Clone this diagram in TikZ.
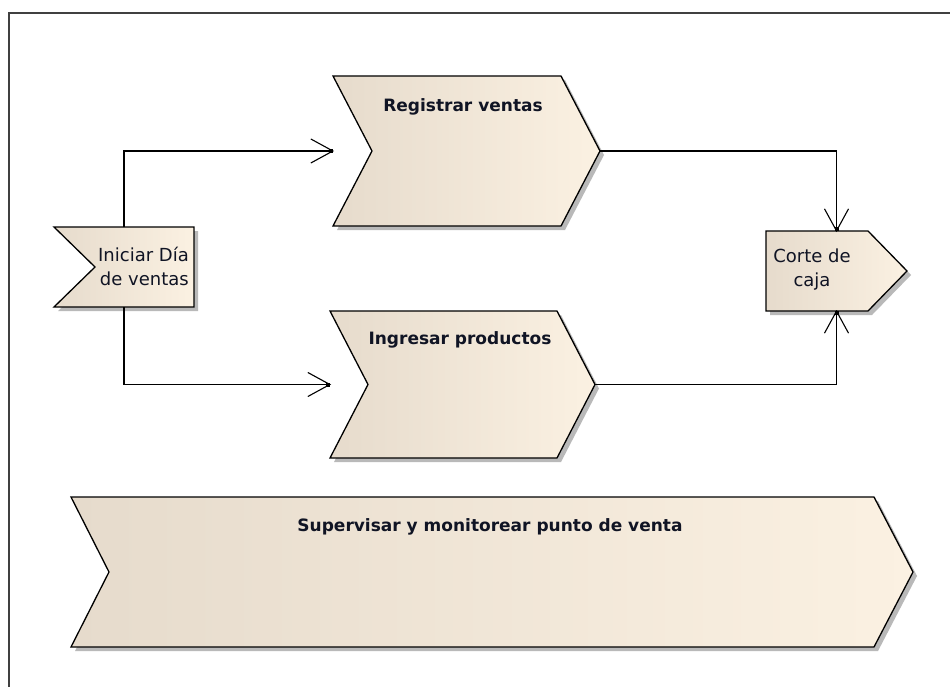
\documentclass[tikz,border=0pt]{standalone}
\usepackage{fontspec}
\setmainfont{DejaVu Sans}
\usetikzlibrary{arrows.meta,shadows}
\definecolor{beigeL}{RGB}{230,219,204}
\definecolor{beigeR}{RGB}{251,241,226}
\definecolor{shadegray}{RGB}{185,185,185}
\definecolor{framegray}{RGB}{64,64,64}
\definecolor{inktext}{RGB}{16,20,36}

% outline of an event/process block: notch depth on the left, point depth on the right
\newcommand{\evshape}[3]{%
  \draw[evstyle] (#1.north west) -- ([xshift=-#3pt]#1.north east) -- (#1.east)
    -- ([xshift=-#3pt]#1.south east) -- (#1.south west) -- ([xshift=#2pt]#1.west) -- cycle;}

\begin{document}
\begin{tikzpicture}[x=1pt,y=-1pt,
  box/.style 2 args={minimum width=#1pt, minimum height=#2pt, inner sep=0pt, outer sep=0pt},
  evstyle/.style={draw=black, line width=1.3pt, line join=miter,
    left color=beigeL, right color=beigeR,
    drop shadow={shadow xshift=4pt, shadow yshift=-4pt, fill=shadegray, opacity=1}},
  boldlabel/.style={font=\fontsize{17}{20}\selectfont\bfseries, text=inktext, inner sep=0pt},
  plainlabel/.style={font=\fontsize{18}{24}\selectfont, text=inktext, inner sep=0pt},
  flow/.style={draw=black, line width=1.1pt,
    -{Straight Barb[length=22pt,width=24pt,sep=-5pt]Square[length=4pt,width=4pt]}}]

\useasboundingbox (0,0) rectangle (950,687);
\fill[white] (0,0) rectangle (950,687);

% outer frame
\draw[framegray, line width=2.2pt] (9,690) -- (9,13) -- (953,13);

% block placeholders
\node[box={267}{150}] (reg) at (466.5,151) {};
\node[box={265}{147}] (ing) at (462.5,384.5) {};
\node[box={842}{150}] (sup) at (492,572) {};
\node[box={140}{80}] (ini) at (124,267) {};
\node[box={141}{80}] (cor) at (836.5,271) {};

% block outlines
\evshape{reg}{39}{39}
\evshape{ing}{38}{38}
\evshape{sup}{38}{39}
\evshape{ini}{41}{0}
\evshape{cor}{0}{39}

% labels
\node[boldlabel] (regT) at (463,107) {Registrar ventas};
\node[boldlabel] (ingT) at (460,340) {Ingresar productos};
\node[boldlabel] (supT) at (490,527) {Supervisar y monitorear punto de venta};
\node[plainlabel, align=right, anchor=east] (iniT) at (189,266) {Iniciar Día\\de ventas};
\node[plainlabel, align=center] (corT) at (812,270) {Corte de\\caja};

% connectors
\draw[flow] (ini.north) |- (reg.west);
\draw[flow] (ini.south) |- (ing.west);
\draw[flow] (reg.east) -| (cor.north);
\draw[flow] (ing.east) -| (cor.south);

\end{tikzpicture}
\end{document}
